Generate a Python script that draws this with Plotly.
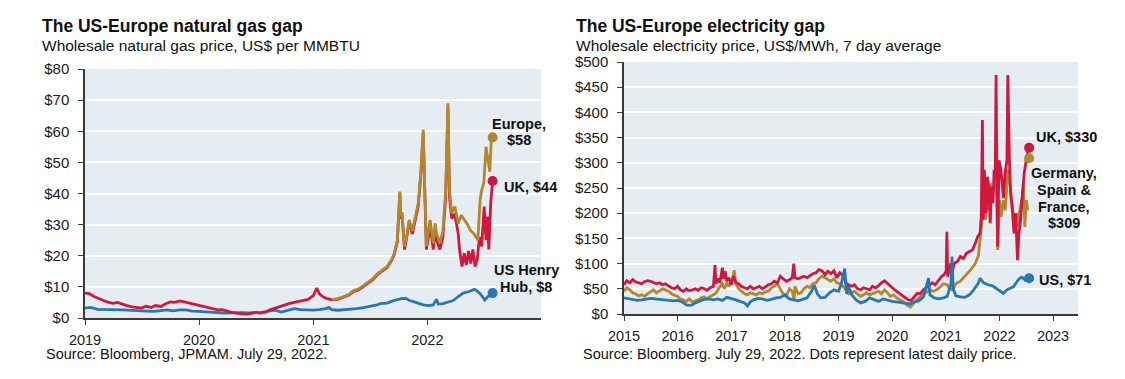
import plotly.graph_objects as go

W, H = 1125, 379

# ---------------- LEFT CHART DATA: natural gas ----------------
gas_uk_dates = [
    "2019-01-01", "2019-01-15", "2019-02-01", "2019-02-15", "2019-03-01", "2019-03-15", "2019-04-01", "2019-04-15",
    "2019-05-01", "2019-05-15", "2019-06-01", "2019-06-15", "2019-07-01", "2019-07-15", "2019-08-01", "2019-08-15",
    "2019-09-01", "2019-09-15", "2019-10-01", "2019-10-15", "2019-11-01", "2019-11-15", "2019-12-01", "2019-12-15",
    "2020-01-01", "2020-01-15", "2020-02-01", "2020-02-15", "2020-03-01", "2020-03-15", "2020-04-01", "2020-04-15",
    "2020-05-01", "2020-05-15", "2020-06-01", "2020-06-15", "2020-07-01", "2020-07-15", "2020-08-01", "2020-08-15",
    "2020-09-01", "2020-09-15", "2020-10-01", "2020-10-15", "2020-11-01", "2020-11-15", "2020-12-01", "2020-12-15",
    "2021-01-01", "2021-01-12", "2021-01-20", "2021-02-01", "2021-02-15", "2021-03-01", "2021-03-20", "2021-04-10",
    "2021-04-25", "2021-05-10", "2021-05-25", "2021-06-10", "2021-06-25", "2021-07-10", "2021-07-25", "2021-08-04",
    "2021-08-25", "2021-09-10", "2021-09-17", "2021-09-27", "2021-10-05", "2021-10-08", "2021-10-12", "2021-10-16",
    "2021-10-20", "2021-10-28", "2021-11-04", "2021-11-14", "2021-11-24", "2021-12-03", "2021-12-11", "2021-12-19",
    "2021-12-24", "2021-12-29", "2022-01-03", "2022-01-10", "2022-01-20", "2022-01-26", "2022-01-31", "2022-02-10",
    "2022-02-20", "2022-03-01", "2022-03-08", "2022-03-13", "2022-03-20", "2022-03-30", "2022-04-10", "2022-04-14",
    "2022-04-22", "2022-04-29", "2022-05-06", "2022-05-13", "2022-05-20", "2022-05-27", "2022-06-03", "2022-06-10",
    "2022-06-17", "2022-06-24", "2022-07-02", "2022-07-08", "2022-07-12", "2022-07-17", "2022-07-23", "2022-07-29",
]
gas_uk_vals = [
    8.0, 7.8, 6.8, 6.1, 5.6, 5.1, 4.7, 5.0,
    4.4, 4.0, 3.6, 3.4, 3.2, 3.8, 3.4, 4.0,
    3.7, 4.5, 5.2, 5.0, 5.5, 5.2, 4.8, 4.5,
    4.1, 3.7, 3.1, 2.8, 2.6, 2.7, 2.1, 1.8,
    1.6, 1.4, 1.2, 1.5, 1.8, 1.6, 1.9, 2.6,
    3.2, 3.6, 4.2, 4.6, 5.0, 5.3, 5.5, 6.0,
    7.2, 9.6, 7.8, 6.8, 6.2, 5.8, 6.0, 6.7,
    7.4, 8.5, 9.0, 10.1, 11.2, 12.3, 13.9, 14.7,
    16.2, 18.7, 20.4, 24.5, 40.0, 32.0, 33.0, 27.5,
    22.0, 26.5, 31.0, 27.0, 31.5, 36.0, 45.5, 59.5,
    40.0, 22.0, 25.0, 29.5, 22.0, 28.5, 25.0, 22.0,
    26.0, 39.5, 67.5, 39.0, 32.0, 33.5, 27.0, 22.0,
    16.5, 20.8, 17.0, 21.5, 17.5, 22.0, 16.5, 19.0,
    26.0, 23.0, 35.8, 25.0, 32.6, 22.0, 37.0, 44.0,
]

gas_eu_dates = [
    "2021-03-01", "2021-03-20", "2021-04-10", "2021-04-25", "2021-05-10", "2021-05-25", "2021-06-10", "2021-06-25",
    "2021-07-10", "2021-07-25", "2021-08-04", "2021-08-25", "2021-09-10", "2021-09-17", "2021-09-27", "2021-10-05",
    "2021-10-08", "2021-10-12", "2021-10-16", "2021-10-20", "2021-10-28", "2021-11-04", "2021-11-14", "2021-11-24",
    "2021-12-03", "2021-12-11", "2021-12-19", "2021-12-24", "2021-12-29", "2022-01-03", "2022-01-10", "2022-01-20",
    "2022-01-26", "2022-01-31", "2022-02-10", "2022-02-20", "2022-03-01", "2022-03-08", "2022-03-13", "2022-03-20",
    "2022-03-30", "2022-04-10", "2022-04-20", "2022-04-30", "2022-05-10", "2022-05-20", "2022-05-31", "2022-06-12",
    "2022-06-19", "2022-06-24", "2022-07-01", "2022-07-08", "2022-07-13", "2022-07-20", "2022-07-26", "2022-07-29",
]
gas_eu_vals = [
    5.8, 6.2, 6.9, 7.6, 8.8, 9.3, 10.4, 11.5,
    12.6, 14.2, 15.0, 16.5, 19.0, 20.8, 25.0, 40.6,
    32.6, 34.0, 28.3, 22.9, 27.0, 31.5, 28.0, 32.6,
    36.9, 46.5, 60.5, 41.0, 23.0, 27.0, 31.5, 24.0,
    30.4, 27.0, 24.0, 28.0, 41.0, 69.0, 41.0, 33.7,
    35.8, 30.4, 33.0, 31.5, 30.0, 28.0, 27.0, 25.0,
    38.0, 41.0, 43.5, 55.0, 52.0, 47.0, 59.5, 58.0,
]

gas_us_dates = [
    "2019-01-01", "2019-01-20", "2019-02-10", "2019-03-01", "2019-03-20", "2019-04-10", "2019-05-01", "2019-05-20",
    "2019-06-10", "2019-07-01", "2019-07-20", "2019-08-10", "2019-09-01", "2019-09-20", "2019-10-10", "2019-11-01",
    "2019-11-20", "2019-12-10", "2020-01-01", "2020-01-20", "2020-02-10", "2020-03-01", "2020-03-20", "2020-04-10",
    "2020-05-01", "2020-05-20", "2020-06-10", "2020-07-01", "2020-07-20", "2020-08-10", "2020-09-01", "2020-09-20",
    "2020-10-10", "2020-11-01", "2020-11-20", "2020-12-10", "2021-01-01", "2021-01-20", "2021-02-10", "2021-02-20",
    "2021-03-01", "2021-03-20", "2021-04-10", "2021-05-01", "2021-05-20", "2021-06-10", "2021-07-01", "2021-07-20",
    "2021-08-04", "2021-08-25", "2021-09-15", "2021-09-27", "2021-10-10", "2021-10-25", "2021-11-05", "2021-11-20",
    "2021-12-05", "2021-12-19", "2022-01-05", "2022-01-20", "2022-01-30", "2022-02-05", "2022-02-20", "2022-03-08",
    "2022-03-25", "2022-04-10", "2022-04-26", "2022-05-15", "2022-06-01", "2022-06-08", "2022-06-20", "2022-07-04",
    "2022-07-14", "2022-07-24", "2022-07-29",
]
gas_us_vals = [
    3.2, 3.4, 2.8, 2.8, 2.7, 2.6, 2.6, 2.5,
    2.3, 2.3, 2.2, 2.1, 2.4, 2.6, 2.3, 2.6,
    2.6, 2.2, 2.1, 1.9, 1.8, 1.7, 1.6, 1.7,
    1.8, 1.7, 1.6, 1.7, 1.8, 2.2, 2.5, 1.9,
    2.4, 3.0, 2.7, 2.6, 2.5, 2.7, 3.0, 3.4,
    2.7, 2.5, 2.6, 2.9, 3.0, 3.3, 3.7, 4.1,
    4.6, 4.8, 5.6, 6.0, 6.2, 6.3, 5.6, 5.2,
    4.6, 4.2, 4.0, 4.2, 6.0, 4.5, 4.6, 5.2,
    5.6, 6.9, 8.0, 8.5, 9.2, 8.8, 7.7, 5.8,
    6.9, 7.6, 8.1,
]

gas_last_date = "2022-07-29"
gas_last = {"Europe": 58, "UK": 44, "US": 8}

# ---------------- RIGHT CHART DATA: electricity ----------------
el_uk_dates = [
    "2015-01-01", "2015-01-20", "2015-02-10", "2015-03-01", "2015-03-20", "2015-04-10", "2015-05-01", "2015-05-20",
    "2015-06-10", "2015-07-01", "2015-07-20", "2015-08-10", "2015-09-01", "2015-09-20", "2015-10-10", "2015-11-01",
    "2015-11-20", "2015-12-10", "2016-01-01", "2016-01-20", "2016-02-10", "2016-03-01", "2016-03-20", "2016-04-10",
    "2016-05-01", "2016-05-20", "2016-06-10", "2016-07-01", "2016-07-20", "2016-08-10", "2016-09-01", "2016-09-12",
    "2016-09-18", "2016-10-01", "2016-10-15", "2016-11-01", "2016-11-10", "2016-11-20", "2016-12-01", "2016-12-15",
    "2017-01-01", "2017-01-15", "2017-02-01", "2017-02-20", "2017-03-10", "2017-04-01", "2017-04-20", "2017-05-10",
    "2017-06-01", "2017-06-20", "2017-07-10", "2017-08-01", "2017-08-20", "2017-09-10", "2017-10-01", "2017-10-20",
    "2017-11-10", "2017-12-01", "2017-12-20", "2018-01-10", "2018-02-01", "2018-02-20", "2018-03-02", "2018-03-10",
    "2018-04-01", "2018-04-20", "2018-05-10", "2018-06-01", "2018-06-20", "2018-07-10", "2018-08-01", "2018-08-20",
    "2018-09-10", "2018-10-01", "2018-10-20", "2018-11-10", "2018-12-01", "2018-12-20", "2019-01-10", "2019-02-01",
    "2019-02-20", "2019-03-10", "2019-04-01", "2019-04-20", "2019-05-10", "2019-06-01", "2019-06-20", "2019-07-10",
    "2019-08-01", "2019-08-20", "2019-09-10", "2019-10-01", "2019-10-20", "2019-11-10", "2019-12-01", "2019-12-20",
    "2020-01-10", "2020-02-01", "2020-02-20", "2020-03-10", "2020-04-01", "2020-04-20", "2020-05-10", "2020-06-01",
    "2020-06-20", "2020-07-10", "2020-08-01", "2020-08-20", "2020-09-10", "2020-10-01", "2020-10-20", "2020-11-10",
    "2020-12-01", "2020-12-20", "2021-01-03", "2021-01-08", "2021-01-14", "2021-01-25", "2021-02-05", "2021-02-15",
    "2021-03-01", "2021-03-20", "2021-04-10", "2021-05-01", "2021-05-20", "2021-06-10", "2021-07-01", "2021-07-20",
    "2021-08-05", "2021-08-22", "2021-08-30", "2021-09-07", "2021-09-12", "2021-09-20", "2021-09-25", "2021-10-02",
    "2021-10-12", "2021-10-22", "2021-10-30", "2021-11-08", "2021-11-18", "2021-11-26", "2021-12-03", "2021-12-09",
    "2021-12-14", "2021-12-20", "2021-12-29", "2022-01-11", "2022-01-28", "2022-02-09", "2022-02-21", "2022-02-27",
    "2022-03-10", "2022-03-18", "2022-03-30", "2022-04-10", "2022-04-21", "2022-05-04", "2022-05-14", "2022-05-25",
    "2022-06-07", "2022-06-19", "2022-07-06", "2022-07-15",
]
el_uk_vals = [
    58, 66, 62, 68, 64, 62, 60, 64,
    66, 65, 63, 60, 62, 58, 60, 55,
    52, 50, 55, 48, 45, 50, 46, 48,
    50, 47, 52, 50, 47, 52, 55, 97,
    60, 70, 62, 92, 70, 85, 65, 72,
    58, 75, 62, 60, 55, 52, 50, 55,
    50, 52, 55, 50, 54, 58, 60, 65,
    62, 75, 70, 65, 68, 72, 100, 72,
    70, 72, 75, 72, 76, 80, 82, 88,
    86, 78, 85, 80, 86, 72, 82, 76,
    62, 58, 55, 58, 50, 48, 52, 50,
    48, 55, 52, 56, 62, 66, 60, 55,
    50, 45, 41, 38, 32, 28, 27, 35,
    41, 40, 48, 52, 58, 62, 58, 66,
    74, 78, 85, 163, 74, 90, 101, 85,
    101, 104, 114, 110, 120, 124, 127, 140,
    153, 160, 193, 385, 187, 286, 253, 200,
    272, 240, 180, 253, 220, 286, 272, 474,
    300, 134, 305, 286, 230, 280, 305, 474,
    305, 240, 206, 160, 200, 107, 160, 187,
    240, 280, 312, 322,
]

el_eu_dates = [
    "2015-01-01", "2015-01-20", "2015-02-10", "2015-03-01", "2015-03-20", "2015-04-10", "2015-05-01", "2015-05-20",
    "2015-06-10", "2015-07-01", "2015-07-20", "2015-08-10", "2015-09-01", "2015-09-20", "2015-10-10", "2015-11-01",
    "2015-11-20", "2015-12-10", "2016-01-01", "2016-01-20", "2016-02-10", "2016-03-01", "2016-03-20", "2016-04-10",
    "2016-05-01", "2016-05-20", "2016-06-10", "2016-07-01", "2016-07-20", "2016-08-10", "2016-09-01", "2016-09-20",
    "2016-10-10", "2016-11-01", "2016-11-15", "2016-12-01", "2016-12-15", "2017-01-10", "2017-01-20", "2017-02-01",
    "2017-02-20", "2017-03-10", "2017-04-01", "2017-04-20", "2017-05-10", "2017-06-01", "2017-06-20", "2017-07-10",
    "2017-08-01", "2017-08-20", "2017-09-10", "2017-10-01", "2017-10-20", "2017-11-10", "2017-12-01", "2017-12-20",
    "2018-01-10", "2018-02-01", "2018-02-20", "2018-03-05", "2018-03-10", "2018-04-01", "2018-04-20", "2018-05-10",
    "2018-06-01", "2018-06-20", "2018-07-10", "2018-08-01", "2018-08-20", "2018-09-10", "2018-10-01", "2018-10-20",
    "2018-11-10", "2018-12-01", "2018-12-20", "2019-01-10", "2019-02-01", "2019-02-20", "2019-03-10", "2019-04-01",
    "2019-04-20", "2019-05-10", "2019-06-01", "2019-06-20", "2019-07-10", "2019-08-01", "2019-08-20", "2019-09-10",
    "2019-10-01", "2019-10-20", "2019-11-10", "2019-12-01", "2019-12-20", "2020-01-10", "2020-02-01", "2020-02-25",
    "2020-03-20", "2020-04-10", "2020-05-05", "2020-05-25", "2020-06-15", "2020-07-10", "2020-08-10", "2020-09-10",
    "2020-10-10", "2020-11-10", "2020-12-15", "2021-01-10", "2021-01-25", "2021-02-15", "2021-03-10", "2021-04-10",
    "2021-05-20", "2021-06-20", "2021-07-20", "2021-08-10", "2021-08-22", "2021-09-01", "2021-09-07", "2021-09-18",
    "2021-09-28", "2021-10-10", "2021-10-20", "2021-10-30", "2021-11-15", "2021-11-30", "2021-12-08", "2021-12-13",
    "2021-12-20", "2022-01-01", "2022-01-12", "2022-01-28", "2022-02-10", "2022-02-27", "2022-03-08", "2022-03-20",
    "2022-04-06", "2022-04-16", "2022-04-26", "2022-05-05", "2022-05-15", "2022-05-25", "2022-06-05", "2022-06-13",
    "2022-06-23", "2022-07-03", "2022-07-13",
]
el_eu_vals = [
    45, 52, 48, 42, 40, 36, 38, 35,
    40, 45, 48, 42, 46, 50, 48, 45,
    40, 38, 35, 30, 28, 25, 30, 24,
    26, 28, 32, 34, 30, 35, 38, 42,
    52, 60, 50, 62, 55, 70, 87, 60,
    50, 45, 40, 38, 42, 40, 38, 42,
    40, 44, 45, 52, 55, 60, 50, 40,
    35, 50, 45, 28, 55, 40, 42, 50,
    55, 52, 60, 62, 70, 75, 72, 68,
    65, 70, 62, 60, 55, 48, 40, 42,
    45, 40, 35, 38, 42, 38, 40, 42,
    45, 40, 48, 42, 35, 38, 32, 28,
    24, 18, 14, 20, 28, 34, 40, 48,
    45, 50, 60, 58, 50, 48, 60, 65,
    78, 88, 100, 115, 147, 173, 193, 226,
    187, 240, 206, 260, 240, 260, 305, 250,
    127, 226, 193, 226, 206, 286, 272, 240,
    193, 173, 200, 173, 200, 213, 230, 260,
    173, 226, 206,
]

el_us_dates = [
    "2015-01-01", "2015-02-01", "2015-03-01", "2015-04-01", "2015-05-01", "2015-06-01", "2015-07-01", "2015-08-01",
    "2015-09-01", "2015-10-01", "2015-11-01", "2015-12-01", "2016-01-01", "2016-02-01", "2016-03-01", "2016-03-20",
    "2016-04-10", "2016-05-01", "2016-06-01", "2016-07-01", "2016-08-01", "2016-09-01", "2016-10-01", "2016-11-01",
    "2016-12-01", "2017-01-01", "2017-02-01", "2017-03-01", "2017-04-01", "2017-04-20", "2017-05-10", "2017-06-01",
    "2017-07-01", "2017-08-01", "2017-09-01", "2017-10-01", "2017-11-01", "2017-12-01", "2018-01-01", "2018-01-15",
    "2018-02-01", "2018-03-01", "2018-04-01", "2018-05-01", "2018-06-01", "2018-07-01", "2018-07-20", "2018-08-10",
    "2018-09-01", "2018-10-01", "2018-11-01", "2018-12-01", "2019-01-01", "2019-01-20", "2019-02-12", "2019-02-25",
    "2019-03-10", "2019-04-01", "2019-05-01", "2019-06-01", "2019-07-01", "2019-08-01", "2019-09-01", "2019-10-01",
    "2019-11-01", "2019-12-01", "2020-01-01", "2020-02-01", "2020-03-01", "2020-04-01", "2020-05-01", "2020-06-01",
    "2020-07-01", "2020-08-01", "2020-09-05", "2020-09-15", "2020-10-15", "2020-11-15", "2020-12-15", "2021-01-10",
    "2021-02-05", "2021-02-12", "2021-02-20", "2021-03-10", "2021-04-10", "2021-05-10", "2021-06-10", "2021-07-10",
    "2021-08-10", "2021-08-22", "2021-09-15", "2021-10-15", "2021-11-15", "2021-12-15", "2022-01-10", "2022-01-28",
    "2022-02-20", "2022-03-20", "2022-04-06", "2022-04-25", "2022-05-15", "2022-06-01", "2022-06-13", "2022-06-25",
    "2022-07-10", "2022-07-15",
]
el_us_vals = [
    32, 30, 28, 27, 28, 30, 31, 30,
    29, 28, 27, 26, 27, 24, 18, 17,
    18, 22, 26, 29, 30, 28, 30, 27,
    33, 31, 28, 25, 22, 16, 24, 28,
    31, 30, 27, 29, 32, 33, 38, 34,
    30, 28, 26, 29, 32, 45, 57, 40,
    32, 33, 42, 48, 45, 60, 90, 40,
    55, 38, 28, 22, 25, 32, 28, 25,
    30, 27, 25, 24, 22, 21, 20, 24,
    26, 34, 71, 38, 32, 30, 32, 35,
    60, 114, 50, 36, 34, 33, 38, 48,
    61, 71, 62, 58, 56, 50, 45, 41,
    48, 52, 54, 62, 70, 73, 71, 67,
    70, 69,
]

el_last_date = "2022-07-22"
el_last = {"UK": 330, "EU": 309, "US": 71}

# ---------------- STYLE ----------------
RED = "#d1173e"
GOLD = "#b3872e"
BLUE = "#2677b4"
BG = "#e5edf2"
AXIS = "#3a3a3a"
FONT = "Liberation Sans, Arial, sans-serif"
LW = 2.8

fig = go.Figure()

def line(x, y, color, xa, ya):
    fig.add_trace(go.Scatter(x=x, y=y, mode="lines", line=dict(color=color, width=LW),
                             xaxis=xa, yaxis=ya, showlegend=False, hoverinfo="skip"))

def dot(x, y, color, xa, ya):
    fig.add_trace(go.Scatter(x=[x], y=[y], mode="markers", marker=dict(color=color, size=10),
                             xaxis=xa, yaxis=ya, showlegend=False, hoverinfo="skip"))

# left chart
line(gas_us_dates, gas_us_vals, BLUE, "x", "y")
line(gas_uk_dates, gas_uk_vals, RED, "x", "y")
line(gas_eu_dates, gas_eu_vals, GOLD, "x", "y")
dot(gas_last_date, gas_last["US"], BLUE, "x", "y")
dot(gas_last_date, gas_last["UK"], RED, "x", "y")
dot(gas_last_date, gas_last["Europe"], GOLD, "x", "y")

# right chart
line(el_eu_dates, el_eu_vals, GOLD, "x2", "y2")
line(el_uk_dates, el_uk_vals, RED, "x2", "y2")
line(el_us_dates, el_us_vals, BLUE, "x2", "y2")
dot(el_last_date, el_last["EU"], GOLD, "x2", "y2")
dot(el_last_date, el_last["UK"], RED, "x2", "y2")
dot(el_last_date, el_last["US"], BLUE, "x2", "y2")

def px_x(p):
    return p / W

def px_y(p):
    return 1 - p / H

gas_years = ["2019", "2020", "2021", "2022"]
el_years = ["2015", "2016", "2017", "2018", "2019", "2020", "2021", "2022", "2023"]
gas_ticks = [0, 10, 20, 30, 40, 50, 60, 70, 80]
el_ticks = [0, 50, 100, 150, 200, 250, 300, 350, 400, 450, 500]

xcommon = dict(type="date", showgrid=False, showline=True, linecolor=AXIS, linewidth=1.5,
               ticks="outside", ticklen=5, tickwidth=1.2, tickcolor=AXIS,
               tickfont=dict(family=FONT, size=14.5, color="#1a1a1a"), ticklabelstandoff=3,
               zeroline=False, fixedrange=True, automargin=False)
ycommon = dict(showgrid=True, gridcolor="white", gridwidth=1.6, showline=True, linecolor=AXIS,
               linewidth=1.5, ticks="outside", ticklen=5, tickwidth=1.2, tickcolor=AXIS,
               tickfont=dict(family=FONT, size=15, color="#1a1a1a"), ticklabelstandoff=6,
               zeroline=False, fixedrange=True, automargin=False)

fig.update_layout(
    width=W, height=H, margin=dict(l=0, r=0, t=0, b=0, autoexpand=False),
    paper_bgcolor="white", plot_bgcolor=BG,
    xaxis=dict(xcommon, domain=[px_x(85), px_x(541)], range=["2019-01-01", "2022-12-31"],
               tickvals=[y + "-01-01" for y in gas_years], ticktext=gas_years, anchor="y"),
    yaxis=dict(ycommon, domain=[px_y(318), px_y(69)], range=[0, 80], tickvals=gas_ticks,
               ticktext=["$" + str(v) for v in gas_ticks], anchor="x"),
    xaxis2=dict(xcommon, domain=[px_x(624), px_x(1078)], range=["2015-01-01", "2023-06-20"],
                tickvals=[y + "-01-01" for y in el_years], ticktext=el_years, anchor="y2"),
    yaxis2=dict(ycommon, domain=[px_y(314), px_y(62)], range=[0, 500], tickvals=el_ticks,
                ticktext=["$" + str(v) for v in el_ticks], anchor="x2"),
)

def text(s, x, y, size, bold=False, xanchor="left", color="#111"):
    fig.add_annotation(text=f"<b>{s}</b>" if bold else s, xref="paper", yref="paper",
                       x=px_x(x), y=px_y(y), xanchor=xanchor, yanchor="middle", showarrow=False,
                       font=dict(family=FONT, size=size, color=color))

# titles
text("The US-Europe natural gas gap", 40, 26, 17.5, bold=True)
text("Wholesale natural gas price, US$ per MMBTU", 40, 45, 15.5)
text("Source: Bloomberg, JPMAM. July 29, 2022.", 44, 354, 14.5)

text("The US-Europe electricity gap", 574, 26, 17.5, bold=True)
text("Wholesale electricity price, US$/MWh, 7 day average", 574, 45, 15.5)
text("Source: Bloomberg. July 29, 2022. Dots represent latest daily price.", 581, 354, 14.5)

# series labels (one annotation per line)
LBL = 14.5
for s, x, y in [("Europe,", 519, 123.5), ("$58", 519, 140), ("UK, $44", 530, 187),
                ("US Henry", 526, 270), ("Hub, $8", 526, 287),
                ("UK, $330", 1066, 137), ("Germany,", 1064, 173), ("Spain &", 1064, 190),
                ("France,", 1064, 206.5), ("$309", 1064, 223), ("US, $71", 1065, 280)]:
    text(s, x, y, LBL, bold=True, xanchor="center")

fig.write_html("out.html", config={"displayModeBar": False},
               post_script="document.body.style.margin='0';document.body.style.overflow='hidden';")
